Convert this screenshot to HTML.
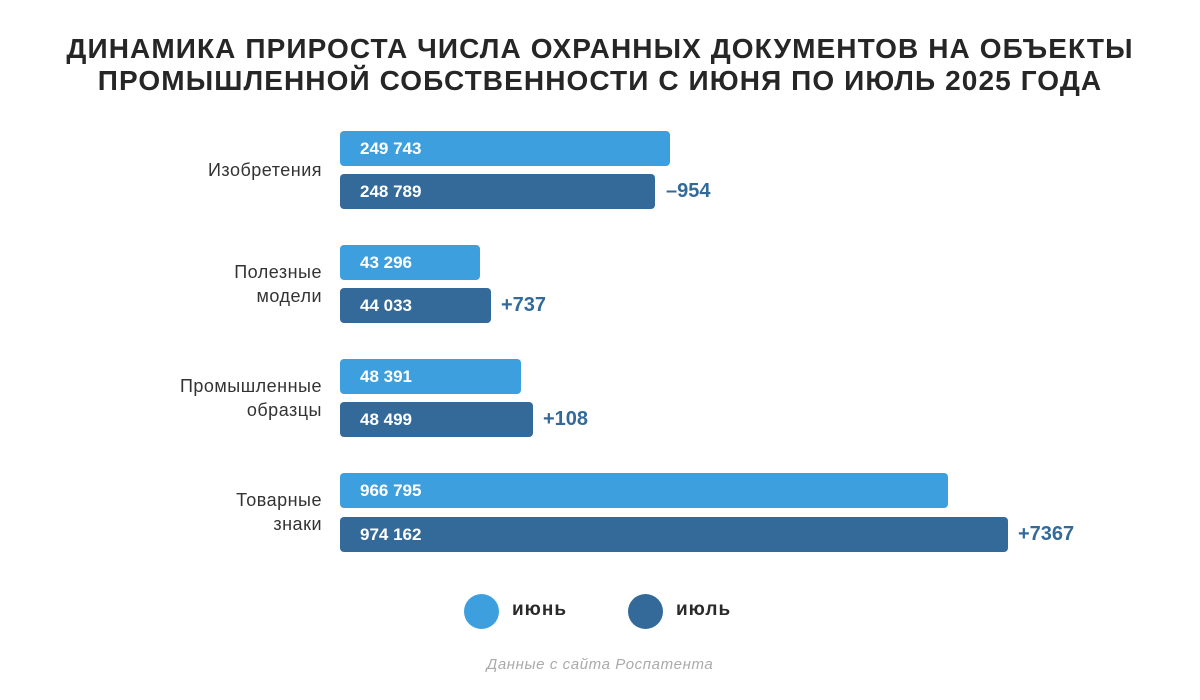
<!DOCTYPE html>
<html><head><meta charset="utf-8"><style>
body{margin:0;width:1200px;height:700px;background:#fff;font-family:"Liberation Sans","DejaVu Sans",sans-serif;position:relative;overflow:hidden}
.t{position:absolute;left:0;width:1200px;text-align:center;font-weight:bold;font-size:28px;color:#262626;letter-spacing:1.1px}
.b{position:absolute;left:340px;height:35px;border-radius:4px;color:#fff;font-weight:bold;font-size:17px;line-height:35px;box-sizing:border-box;padding-left:20px}
.l{background:#3d9fde}.d{background:#336a9a}
.v{position:absolute;font-weight:bold;font-size:20px;color:#336a9a;line-height:35px}
.c{position:absolute;right:878px;text-align:right;font-size:18px;color:#333;line-height:24px;letter-spacing:0.5px}
.dot{position:absolute;width:35px;height:35px;border-radius:50%}
.lg{position:absolute;font-weight:bold;font-size:19px;color:#2a2a2a;letter-spacing:1px}
</style></head><body>
<div class="t" style="top:33px">ДИНАМИКА ПРИРОСТА ЧИСЛА ОХРАННЫХ ДОКУМЕНТОВ НА ОБЪЕКТЫ</div>
<div class="t" style="top:65px">ПРОМЫШЛЕННОЙ СОБСТВЕННОСТИ С ИЮНЯ ПО ИЮЛЬ 2025 ГОДА</div>

<div class="c" style="top:158px">Изобретения</div>
<div class="b l" style="top:131px;width:330px">249 743</div>
<div class="b d" style="top:174px;width:315px">248 789</div>
<div class="v" style="top:174px;left:666px">–954</div>

<div class="c" style="top:260px">Полезные<br>модели</div>
<div class="b l" style="top:245px;width:140px">43 296</div>
<div class="b d" style="top:288px;width:151px">44 033</div>
<div class="v" style="top:288px;left:501px">+737</div>

<div class="c" style="top:374px">Промышленные<br>образцы</div>
<div class="b l" style="top:359px;width:181px">48 391</div>
<div class="b d" style="top:402px;width:193px">48 499</div>
<div class="v" style="top:402px;left:543px">+108</div>

<div class="c" style="top:488px">Товарные<br>знаки</div>
<div class="b l" style="top:473px;width:608px">966 795</div>
<div class="b d" style="top:517px;width:668px">974 162</div>
<div class="v" style="top:517px;left:1018px">+7367</div>

<div class="dot l" style="left:464px;top:594px"></div>
<div class="lg" style="left:512px;top:599px">июнь</div>
<div class="dot d" style="left:628px;top:594px"></div>
<div class="lg" style="left:676px;top:599px">июль</div>
<div style="position:absolute;left:0;width:1200px;top:656px;text-align:center;font-style:italic;font-size:15px;color:#aaa;letter-spacing:0.6px">Данные с сайта Роспатента</div>
</body></html>
